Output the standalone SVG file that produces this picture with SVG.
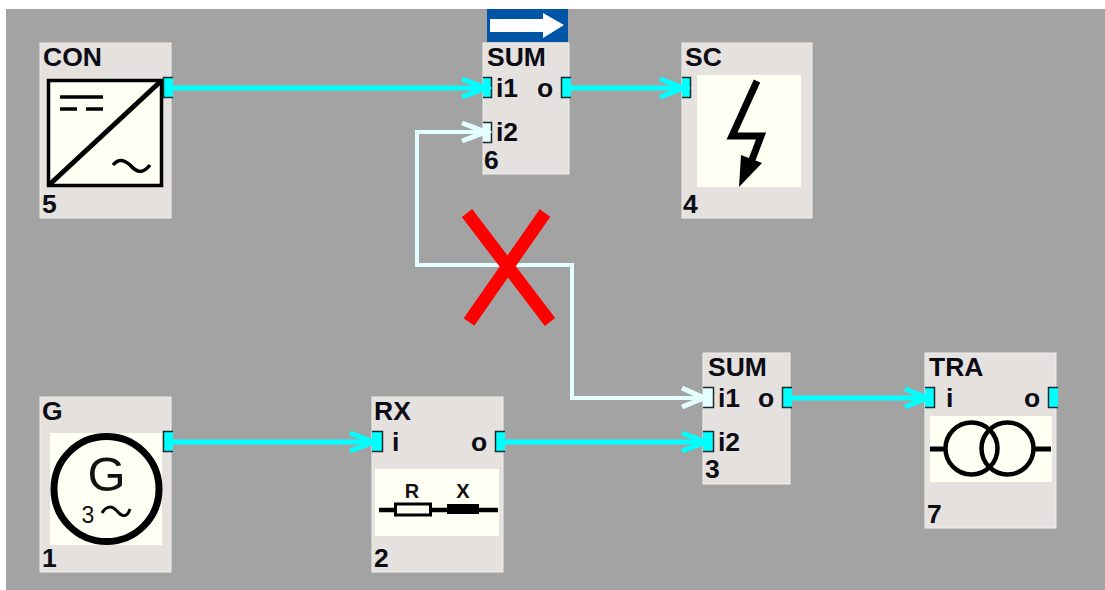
<svg xmlns="http://www.w3.org/2000/svg" width="1105" height="590" viewBox="0 0 1105 590">
<style>
.box{fill:#e4e1df;stroke:#f0efee;stroke-width:1}
.icon{fill:#fffff4}
.t{font-family:"Liberation Sans",Arial,sans-serif;font-weight:bold;font-size:26.500px;fill:#0c0c14}
.p{fill:#00ffff}
.pw{fill:#e4ffff}
.s{fill:none;stroke:#1a2a2a;stroke-width:1.500}
.c{fill:none;stroke:#00ffff;stroke-width:5}
.w{fill:none;stroke:#e4ffff;stroke-width:4}
.a{fill:none;stroke:#00ffff;stroke-width:5}
.aw{fill:none;stroke:#e4ffff;stroke-width:5}
.k{fill:none;stroke:#000}
.g{font-family:"Liberation Sans",sans-serif;fill:#111}
.rx{font-family:"Liberation Sans",sans-serif;font-weight:bold;font-size:20px;fill:#111;text-anchor:middle}
</style>
<rect width="1105" height="590" fill="#fff"/>
<rect x="6" y="9" width="1099" height="581" fill="#a3a3a3"/>
<g id="node5">
<rect class="box" x="40" y="43" width="131" height="175"/>
<rect class="k" x="48.500" y="80.500" width="113" height="105" style="fill:#fffff4;stroke-width:3.500"/>
<path class="k" stroke-width="5" d="M49 185L161 81"/>
<path class="k" stroke-width="3.500" d="M60 97H103M60 109H77M86 109H103"/>
<path class="k" stroke-width="3.500" d="M113 165C118 159 123 159 130 165C137 173 143 174 150 165"/>
<rect class="p" x="163" y="77" width="10" height="21"/>
<path class="s" d="M173 77.500H163.500V97.500H173"/>
<text class="t" x="43" y="66">CON</text>
<text class="t" x="42" y="213">5</text>
</g>
<g id="node6">
<rect x="487" y="9" width="81" height="33" fill="#0055a6"/>
<path fill="#fff" d="M490 19H543V13L564 25L543 38V32H490Z"/>
<rect class="box" x="483" y="43" width="86" height="131"/>
<rect class="p" x="483" y="77" width="9" height="21"/>
<path class="s" d="M483 77.500H491.500V97.500H483"/>
<rect class="pw" x="483" y="122" width="9" height="21"/>
<path class="s" d="M483 122.500H491.500V142.500H483"/>
<rect class="p" x="561" y="77" width="10" height="21"/>
<path class="s" d="M571 77.500H561.500V97.500H571"/>
<text class="t" x="496" y="97">i1</text>
<text class="t" x="537" y="97">o</text>
<text class="t" x="496" y="141">i2</text>
<text class="t" x="487" y="66">SUM</text>
<text class="t" x="484" y="169">6</text>
</g>
<g id="node4">
<rect class="box" x="682" y="43" width="130" height="175"/>
<rect class="icon" x="697" y="75" width="104" height="112"/>
<path class="k" stroke-width="7" d="M757 81L732 136H761L750 165"/>
<path d="M741 155L762 163L739 187Z"/>
<rect class="p" x="682" y="77" width="9" height="21"/>
<path class="s" d="M682 77.500H690.500V97.500H682"/>
<text class="t" x="685" y="66">SC</text>
<text class="t" x="683" y="213">4</text>
</g>
<g id="node1">
<rect class="box" x="40" y="397" width="131" height="175"/>
<rect class="icon" x="50" y="433" width="112" height="112"/>
<circle class="k" cx="106.500" cy="489" r="52.500" stroke-width="7"/>
<text class="g" x="106.500" y="491" text-anchor="middle" font-size="49">G</text>
<text class="g" x="88" y="522.500" text-anchor="middle" font-size="23">3</text>
<path class="k" stroke-width="3" d="M102 513C107 505 112 506 117 511C122 517 127 518 130 509"/>
<rect class="p" x="163" y="431" width="10" height="21"/>
<path class="s" d="M173 431.500H163.500V451.500H173"/>
<text class="t" x="42" y="420">G</text>
<text class="t" x="42" y="567">1</text>
</g>
<g id="node2">
<rect class="box" x="372" y="397" width="131" height="175"/>
<rect class="icon" x="375" y="469" width="124" height="67"/>
<text class="rx" x="412" y="498">R</text>
<text class="rx" x="463" y="498">X</text>
<path class="k" stroke-width="4.500" d="M379 510H395M431 510H447M479 510H498"/>
<rect x="395.500" y="504" width="35" height="11" fill="#fffff4" stroke="#000" stroke-width="3"/>
<rect x="447" y="504" width="32" height="10"/>
<rect class="p" x="372" y="431" width="11" height="21"/>
<path class="s" d="M372 431.500H382.500V451.500H372"/>
<rect class="p" x="495" y="431" width="10" height="21"/>
<path class="s" d="M505 431.500H495.500V451.500H505"/>
<text class="t" x="374" y="420">RX</text>
<text class="t" x="392" y="451">i</text>
<text class="t" x="471" y="451">o</text>
<text class="t" x="374" y="567">2</text>
</g>
<g id="node3">
<rect class="box" x="703" y="353" width="87" height="131"/>
<rect class="pw" x="703" y="387" width="11" height="21"/>
<path class="s" d="M703 387.500H713.500V407.500H703"/>
<rect class="p" x="703" y="431" width="11" height="21"/>
<path class="s" d="M703 431.500H713.500V451.500H703"/>
<rect class="p" x="782" y="387" width="10" height="21"/>
<path class="s" d="M792 387.500H782.500V407.500H792"/>
<text class="t" x="708" y="376">SUM</text>
<text class="t" x="718" y="407">i1</text>
<text class="t" x="758" y="407">o</text>
<text class="t" x="718" y="451">i2</text>
<text class="t" x="705" y="478">3</text>
</g>
<g id="node7">
<rect class="box" x="925" y="353" width="131" height="175"/>
<rect class="icon" x="930" y="416" width="122" height="66"/>
<circle class="k" cx="971.500" cy="448.500" r="26" stroke-width="4.500"/>
<circle class="k" cx="1007.500" cy="448.500" r="26" stroke-width="4.500"/>
<path class="k" stroke-width="5" d="M930 449H945M1034 449H1051"/>
<rect class="p" x="925" y="387" width="10" height="21"/>
<path class="s" d="M925 387.500H934.500V407.500H925"/>
<rect class="p" x="1048" y="387" width="10" height="21"/>
<path class="s" d="M1058 387.500H1048.500V407.500H1058"/>
<text class="t" x="929" y="376">TRA</text>
<text class="t" x="946" y="407">i</text>
<text class="t" x="1024" y="407">o</text>
<text class="t" x="927" y="523">7</text>
</g>
<g id="connectors">
<path class="w" d="M704 398H572V265H417V132H486"/>
<path class="aw" d="M462 123L486 132L462 141M682 388L704 398L682 407"/>
<path class="c" d="M170 88H486M568 88H684M170 442H374M500 442H706M788 398H927"/>
<path class="a" d="M462 79L486 88L462 97M660 79L684 88L660 97M350 433L374 442L350 451M682 433L706 442L682 451M905 389L927 398L905 407"/>
</g>
<path id="cross" stroke="#ff0000" stroke-width="13" fill="none" d="M467 213L550 322M545 213L469 322"/>
</svg>
